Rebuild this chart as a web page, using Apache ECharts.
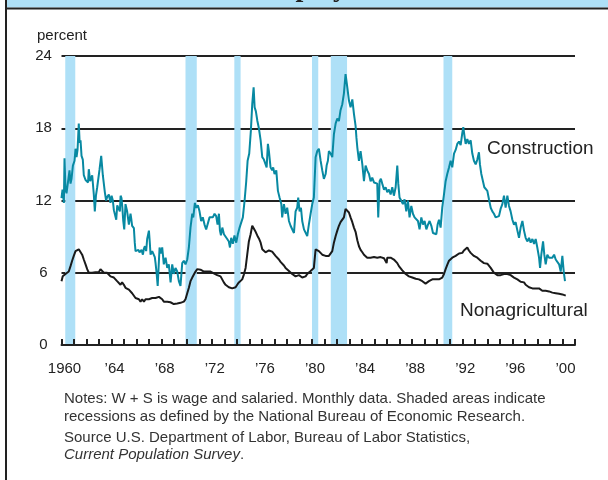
<!DOCTYPE html>
<html>
<head>
<meta charset="utf-8">
<script src="https://cdn.jsdelivr.net/npm/echarts@6/dist/echarts.min.js"></script>
<style>
  html, body { margin: 0; padding: 0; background: #fff; }
  #chart { width: 608px; height: 480px; }
</style>
</head>
<body>
<div id="chart"></div>
<script>
// monthly-ish readings, [year, percent]
var construction = [
  [1960.0, 12.2], [1960.08, 12.9], [1960.19, 11.8], [1960.24, 15.5], [1960.32, 12.9], [1960.4, 12.6],
  [1960.53, 12.7], [1960.64, 14.5], [1960.72, 13.4], [1960.8, 13.8], [1960.91, 14.9], [1961.04, 15.3],
  [1961.12, 16.3], [1961.2, 15.6], [1961.28, 16.2], [1961.38, 18.4], [1961.45, 16.8], [1961.52, 17.0],
  [1961.6, 15.7], [1961.7, 15.4], [1961.78, 14.1], [1961.92, 13.7], [1962.05, 13.8], [1962.12, 13.5],
  [1962.18, 14.6], [1962.29, 13.6], [1962.45, 14.1], [1962.58, 12.5], [1962.66, 11.1], [1962.75, 12.4],
  [1962.85, 13.1], [1963.04, 14.6], [1963.17, 15.7], [1963.3, 14.1], [1963.46, 12.7], [1963.56, 12.0],
  [1963.65, 12.3], [1963.78, 12.5], [1963.91, 11.8], [1964.0, 12.4], [1964.1, 12.0], [1964.18, 11.2],
  [1964.26, 11.1], [1964.37, 10.4], [1964.45, 11.6], [1964.53, 11.4], [1964.66, 11.1], [1964.72, 12.4],
  [1964.79, 12.2], [1964.86, 11.4], [1964.93, 10.3], [1965.01, 9.6], [1965.11, 11.7], [1965.24, 11.1],
  [1965.3, 11.0], [1965.38, 10.0], [1965.51, 10.9], [1965.58, 10.4], [1965.64, 9.9], [1965.78, 9.7],
  [1965.85, 8.5], [1965.91, 7.8], [1966.04, 7.7], [1966.14, 7.9], [1966.23, 7.7], [1966.39, 7.9],
  [1966.5, 7.5], [1966.58, 8.0], [1966.66, 8.2], [1966.76, 7.8], [1966.84, 8.8], [1966.9, 9.1],
  [1966.98, 9.5], [1967.05, 8.5], [1967.11, 7.5], [1967.24, 7.8], [1967.37, 7.9], [1967.45, 7.3],
  [1967.51, 6.8], [1967.6, 5.9], [1967.68, 4.9], [1967.76, 6.6], [1967.83, 8.1], [1967.92, 7.6],
  [1968.04, 8.1], [1968.17, 6.7], [1968.31, 7.25], [1968.44, 6.4], [1968.57, 6.7], [1968.71, 5.2],
  [1968.84, 6.7], [1968.97, 5.9], [1969.1, 6.4], [1969.24, 6.1], [1969.37, 5.3], [1969.5, 4.9],
  [1969.64, 6.8], [1969.77, 7.0], [1969.9, 6.7], [1970.04, 7.1], [1970.17, 8.1], [1970.3, 9.75],
  [1970.44, 10.9], [1970.52, 10.6], [1970.65, 11.8], [1970.76, 11.4], [1970.89, 11.6], [1971.02, 11.1],
  [1971.15, 10.3], [1971.28, 10.6], [1971.42, 10.0], [1971.55, 9.6], [1971.69, 9.5], [1971.82, 10.6],
  [1971.95, 10.7], [1972.08, 10.6], [1972.22, 10.9], [1972.35, 10.7], [1972.46, 10.0], [1972.57, 10.9],
  [1972.65, 9.5], [1972.73, 9.1], [1972.84, 9.75], [1972.97, 9.2], [1973.1, 9.1], [1973.23, 8.8],
  [1973.36, 8.6], [1973.45, 8.1], [1973.55, 8.9], [1973.68, 8.4], [1973.81, 9.1], [1973.95, 8.5],
  [1974.08, 9.2], [1974.22, 9.75], [1974.35, 9.9], [1974.48, 10.6], [1974.62, 12.0], [1974.75, 13.6],
  [1974.86, 15.3], [1974.99, 15.9], [1975.12, 17.8], [1975.23, 20.0], [1975.34, 21.4], [1975.42, 19.75],
  [1975.52, 19.4], [1975.64, 18.6], [1975.76, 18.0], [1975.9, 17.0], [1976.03, 15.6], [1976.16, 15.4],
  [1976.29, 15.3], [1976.38, 14.75], [1976.48, 16.7], [1976.56, 16.1], [1976.69, 14.75], [1976.82, 14.5],
  [1976.9, 14.75], [1977.01, 14.2], [1977.15, 14.5], [1977.28, 12.8], [1977.41, 12.25], [1977.55, 11.7],
  [1977.62, 10.6], [1977.76, 11.7], [1977.89, 10.9], [1978.02, 11.4], [1978.16, 10.3], [1978.29, 9.9],
  [1978.42, 9.75], [1978.56, 9.3], [1978.69, 11.1], [1978.82, 11.4], [1978.9, 12.25], [1979.01, 11.1],
  [1979.12, 11.4], [1979.22, 10.3], [1979.36, 9.6], [1979.49, 9.5], [1979.62, 9.05], [1979.75, 10.0],
  [1979.89, 10.9], [1980.02, 11.7], [1980.15, 12.25], [1980.29, 15.6], [1980.42, 16.1], [1980.55, 16.3],
  [1980.69, 15.3], [1980.82, 14.5], [1980.95, 13.8], [1981.09, 14.2], [1981.17, 14.9], [1981.27, 15.3],
  [1981.35, 16.1], [1981.49, 15.9], [1981.62, 15.6], [1981.75, 17.5], [1981.89, 18.4], [1982.02, 18.8],
  [1982.15, 18.6], [1982.28, 19.5], [1982.42, 20.0], [1982.55, 20.9], [1982.68, 22.5], [1982.82, 21.4],
  [1982.95, 20.3], [1983.08, 19.75], [1983.22, 20.4], [1983.35, 19.2], [1983.48, 18.2], [1983.55, 17.2],
  [1983.62, 16.4], [1983.75, 15.3], [1983.88, 16.1], [1984.02, 15.0], [1984.15, 13.6], [1984.28, 14.9],
  [1984.41, 14.5], [1984.55, 14.2], [1984.68, 13.6], [1984.81, 13.9], [1984.95, 13.5], [1985.08, 13.6],
  [1985.21, 13.4], [1985.29, 10.6], [1985.4, 13.6], [1985.5, 13.8], [1985.61, 13.4], [1985.75, 12.9],
  [1985.88, 13.1], [1986.01, 12.7], [1986.14, 12.9], [1986.28, 12.5], [1986.41, 13.1], [1986.54, 12.4],
  [1986.68, 13.1], [1986.81, 14.9], [1986.89, 13.4], [1986.99, 12.25], [1987.12, 12.0], [1987.26, 11.7],
  [1987.39, 12.1], [1987.53, 11.1], [1987.66, 12.0], [1987.79, 10.6], [1987.93, 11.55], [1988.06, 10.9],
  [1988.19, 10.6], [1988.33, 10.7], [1988.46, 10.3], [1988.59, 9.6], [1988.73, 10.6], [1988.86, 10.0],
  [1988.99, 10.3], [1989.13, 9.6], [1989.26, 10.0], [1989.39, 10.3], [1989.53, 9.9], [1989.66, 9.3],
  [1989.79, 9.2], [1989.93, 9.2], [1990.03, 10.0], [1990.14, 10.4], [1990.27, 9.75], [1990.4, 11.4],
  [1990.54, 12.5], [1990.67, 13.6], [1990.8, 14.2], [1990.94, 14.75], [1991.07, 15.3], [1991.2, 14.75],
  [1991.34, 15.9], [1991.47, 16.2], [1991.6, 16.7], [1991.74, 16.9], [1991.87, 16.6], [1992.0, 17.6],
  [1992.08, 18.1], [1992.19, 17.25], [1992.27, 16.7], [1992.4, 17.1], [1992.53, 16.7], [1992.67, 17.0],
  [1992.8, 15.9], [1992.93, 15.3], [1993.07, 15.0], [1993.2, 15.4], [1993.33, 16.0], [1993.41, 15.0],
  [1993.52, 14.2], [1993.65, 14.1], [1993.76, 13.1], [1993.87, 13.2], [1994.0, 12.8], [1994.13, 12.1],
  [1994.27, 11.4], [1994.4, 11.1], [1994.53, 10.9], [1994.66, 10.6], [1994.8, 10.6], [1994.93, 10.7],
  [1995.06, 11.3], [1995.2, 11.7], [1995.33, 12.4], [1995.46, 11.4], [1995.6, 12.4], [1995.73, 11.55],
  [1995.86, 11.1], [1996.0, 10.4], [1996.13, 10.0], [1996.26, 10.2], [1996.4, 9.5], [1996.53, 8.9],
  [1996.66, 9.75], [1996.8, 10.3], [1996.93, 9.5], [1997.06, 8.9], [1997.19, 8.6], [1997.33, 8.9],
  [1997.46, 8.5], [1997.6, 8.8], [1997.73, 8.4], [1997.86, 8.8], [1997.99, 8.1], [1998.13, 7.25],
  [1998.21, 6.4], [1998.31, 7.5], [1998.45, 8.6], [1998.55, 7.5], [1998.66, 6.7], [1998.79, 7.5],
  [1998.93, 7.25], [1999.06, 7.4], [1999.19, 7.25], [1999.33, 7.5], [1999.46, 7.1], [1999.6, 7.25],
  [1999.73, 6.7], [1999.86, 6.1], [1999.99, 7.4], [2000.1, 6.1], [2000.2, 5.3]
];

var nonagricultural = [
  [1960.0, 5.3], [1960.1, 5.7], [1960.19, 5.6], [1960.32, 5.9], [1960.45, 5.9], [1960.58, 6.1],
  [1960.72, 6.55], [1960.85, 7.0], [1960.98, 7.4], [1961.12, 7.8], [1961.25, 7.95], [1961.38, 7.95],
  [1961.52, 7.8], [1961.65, 7.5], [1961.78, 7.1], [1961.92, 6.7], [1962.05, 6.3], [1962.18, 6.0],
  [1962.31, 5.9], [1962.45, 6.0], [1962.58, 5.95], [1962.71, 6.05], [1962.85, 6.15], [1962.98, 6.05],
  [1963.11, 6.3], [1963.24, 6.15], [1963.38, 6.0], [1963.51, 5.9], [1963.64, 6.0], [1963.78, 5.9],
  [1963.91, 5.7], [1964.04, 5.7], [1964.18, 5.6], [1964.31, 5.45], [1964.44, 5.3], [1964.58, 5.2],
  [1964.71, 5.0], [1964.84, 5.2], [1964.98, 5.0], [1965.11, 4.75], [1965.24, 4.9], [1965.38, 4.6],
  [1965.51, 4.5], [1965.64, 4.3], [1965.78, 4.2], [1965.91, 3.9], [1966.04, 3.9], [1966.18, 3.8],
  [1966.31, 3.6], [1966.44, 3.8], [1966.58, 3.6], [1966.71, 3.8], [1966.84, 3.7], [1966.98, 3.8],
  [1967.11, 3.9], [1967.24, 3.9], [1967.38, 3.9], [1967.51, 3.9], [1967.64, 3.8], [1967.78, 4.0],
  [1967.91, 3.9], [1968.04, 3.8], [1968.17, 3.6], [1968.31, 3.7], [1968.44, 3.6], [1968.57, 3.5],
  [1968.7, 3.55], [1968.84, 3.5], [1968.97, 3.4], [1969.1, 3.5], [1969.24, 3.45], [1969.37, 3.5],
  [1969.5, 3.5], [1969.64, 3.55], [1969.77, 3.6], [1969.9, 3.8], [1970.04, 4.3], [1970.17, 4.75],
  [1970.3, 5.3], [1970.44, 5.6], [1970.57, 5.85], [1970.7, 6.1], [1970.84, 6.3], [1970.97, 6.2],
  [1971.1, 6.25], [1971.23, 6.2], [1971.37, 6.1], [1971.5, 6.15], [1971.63, 6.1], [1971.76, 6.15],
  [1971.9, 6.1], [1972.03, 6.0], [1972.16, 5.95], [1972.3, 5.85], [1972.43, 5.8], [1972.56, 5.85],
  [1972.7, 5.7], [1972.83, 5.45], [1972.96, 5.2], [1973.1, 5.0], [1973.23, 4.9], [1973.36, 4.8],
  [1973.5, 4.75], [1973.63, 4.7], [1973.76, 4.6], [1973.9, 4.8], [1974.03, 5.0], [1974.16, 5.2],
  [1974.3, 5.3], [1974.43, 5.45], [1974.56, 5.85], [1974.7, 6.4], [1974.83, 7.5], [1974.96, 8.6],
  [1975.1, 9.2], [1975.23, 9.9], [1975.36, 9.9], [1975.5, 9.4], [1975.63, 9.1], [1975.76, 8.85],
  [1975.9, 8.5], [1976.03, 7.95], [1976.16, 7.8], [1976.29, 7.7], [1976.42, 7.8], [1976.56, 7.85],
  [1976.69, 7.7], [1976.82, 7.75], [1976.96, 7.7], [1977.09, 7.4], [1977.22, 7.25], [1977.36, 7.1],
  [1977.49, 6.9], [1977.62, 6.8], [1977.76, 6.6], [1977.89, 6.4], [1978.02, 6.3], [1978.16, 6.15],
  [1978.29, 6.0], [1978.42, 5.9], [1978.56, 5.9], [1978.69, 5.7], [1978.82, 5.7], [1978.96, 5.8],
  [1979.09, 5.7], [1979.22, 5.6], [1979.36, 5.5], [1979.49, 5.7], [1979.62, 5.9], [1979.76, 6.0],
  [1979.89, 6.15], [1980.02, 6.3], [1980.15, 6.4], [1980.22, 7.2], [1980.29, 7.95], [1980.42, 8.1],
  [1980.55, 7.8], [1980.69, 7.7], [1980.82, 7.5], [1980.95, 7.45], [1981.09, 7.4], [1981.22, 7.5],
  [1981.35, 7.4], [1981.49, 7.4], [1981.62, 7.8], [1981.75, 8.5], [1981.89, 9.05], [1982.02, 9.5],
  [1982.15, 9.9], [1982.28, 10.2], [1982.42, 10.3], [1982.55, 10.6], [1982.68, 11.3], [1982.8, 11.4],
  [1982.95, 11.0], [1983.08, 10.6], [1983.22, 10.2], [1983.35, 9.75], [1983.48, 9.4], [1983.62, 8.7],
  [1983.75, 8.2], [1983.88, 7.9], [1984.02, 7.7], [1984.15, 7.5], [1984.28, 7.4], [1984.41, 7.25],
  [1984.55, 7.3], [1984.68, 7.25], [1984.81, 7.25], [1984.95, 7.3], [1985.08, 7.3], [1985.21, 7.25],
  [1985.35, 7.25], [1985.48, 7.3], [1985.61, 7.25], [1985.75, 7.2], [1985.88, 7.1], [1985.96, 6.8],
  [1986.01, 7.25], [1986.14, 7.25], [1986.28, 7.25], [1986.41, 7.2], [1986.54, 7.1], [1986.68, 7.0],
  [1986.81, 6.8], [1986.94, 6.55], [1987.08, 6.4], [1987.21, 6.2], [1987.34, 6.1], [1987.48, 5.9],
  [1987.61, 5.9], [1987.74, 5.7], [1987.88, 5.6], [1988.01, 5.6], [1988.14, 5.45], [1988.28, 5.5],
  [1988.41, 5.45], [1988.54, 5.45], [1988.68, 5.35], [1988.81, 5.3], [1988.94, 5.2], [1989.07, 5.1],
  [1989.21, 5.2], [1989.34, 5.3], [1989.47, 5.35], [1989.61, 5.45], [1989.74, 5.45], [1989.87, 5.45],
  [1990.0, 5.5], [1990.14, 5.45], [1990.27, 5.45], [1990.4, 5.6], [1990.54, 5.9], [1990.67, 6.3],
  [1990.8, 6.65], [1990.94, 7.0], [1991.07, 7.1], [1991.2, 7.25], [1991.34, 7.4], [1991.47, 7.4],
  [1991.6, 7.5], [1991.74, 7.6], [1991.87, 7.7], [1992.0, 7.65], [1992.13, 7.85], [1992.27, 7.95],
  [1992.4, 8.1], [1992.53, 7.85], [1992.67, 7.65], [1992.8, 7.5], [1992.93, 7.4], [1993.07, 7.5],
  [1993.2, 7.25], [1993.33, 7.1], [1993.47, 7.0], [1993.6, 7.0], [1993.73, 6.8], [1993.87, 6.75],
  [1994.0, 6.75], [1994.13, 6.65], [1994.27, 6.4], [1994.4, 6.2], [1994.53, 6.0], [1994.66, 5.9],
  [1994.8, 5.8], [1994.93, 5.65], [1995.06, 5.8], [1995.2, 5.9], [1995.33, 5.9], [1995.46, 5.85],
  [1995.6, 5.9], [1995.73, 5.85], [1995.86, 5.8], [1996.0, 5.7], [1996.13, 5.6], [1996.26, 5.45],
  [1996.4, 5.45], [1996.53, 5.3], [1996.66, 5.25], [1996.8, 5.3], [1996.93, 5.2], [1997.06, 5.0],
  [1997.19, 4.95], [1997.33, 4.8], [1997.46, 4.75], [1997.6, 4.7], [1997.73, 4.6], [1997.86, 4.7],
  [1997.99, 4.75], [1998.13, 4.7], [1998.26, 4.6], [1998.39, 4.5], [1998.53, 4.5], [1998.66, 4.5],
  [1998.79, 4.4], [1998.93, 4.45], [1999.06, 4.3], [1999.19, 4.35], [1999.33, 4.3], [1999.46, 4.3],
  [1999.6, 4.25], [1999.73, 4.25], [1999.86, 4.2], [1999.99, 4.2], [2000.13, 4.15], [2000.26, 4.1]
];

// recession shading, start / end in years
var recessions = [
  [1960.3, 1961.1], [1969.9, 1970.8], [1973.8, 1974.3],
  [1980.0, 1980.5], [1981.5, 1982.8], [1990.5, 1991.2]
];

var yTicks = [0, 6, 12, 18, 24];
var xStart = 1960, xEnd = 2001;

var ink = '#222';
var sans = '"Liberation Sans", Arial, Helvetica, sans-serif';
var plot = { left: 61.5, right: 33, top: 56, bottom: 135 };

var chart = echarts.init(document.getElementById('chart'), null, { renderer: 'canvas' });

var option = {
  animation: false,
  backgroundColor: '#fff',
  grid: [plot, plot],
  xAxis: [
    {
      // labels every 4 years, data axis
      gridIndex: 0,
      type: 'value',
      min: xStart,
      max: xEnd,
      interval: 4,
      axisLine: { show: false },
      axisTick: { show: false },
      splitLine: { show: false },
      axisLabel: {
        color: ink,
        fontFamily: sans,
        fontSize: 15,
        margin: 16,
        padding: [0, 0, 0, 6],
        showMaxLabel: false,
        formatter: function (v) {
          if (v % 4 !== 0) return '';
          return v === 1960 ? '1960' : '\u2019' + String(v).slice(2);
        }
      }
    },
    {
      // base line with a tick every year, on its own overlay grid
      gridIndex: 1,
      type: 'value',
      min: xStart,
      max: xEnd,
      interval: 1,
      z: 1,
      axisLine: { lineStyle: { color: ink, width: 2 } },
      axisTick: { show: true, inside: true, length: 6, lineStyle: { color: ink, width: 2 } },
      axisLabel: { show: false },
      splitLine: { show: false }
    }
  ],
  yAxis: [
    {
      gridIndex: 0,
      type: 'value',
      min: yTicks[0],
      max: yTicks[yTicks.length - 1],
      interval: 6,
      z: 1,
      axisLine: { show: false },
      axisTick: { show: false },
      splitLine: { lineStyle: { color: ink, width: 2 } },
      axisLabel: { color: ink, fontFamily: sans, fontSize: 15, align: 'center', margin: 18 }
    },
    {
      gridIndex: 1,
      type: 'value',
      min: yTicks[0],
      max: yTicks[yTicks.length - 1],
      show: false
    }
  ],
  series: [
    {
      name: 'recessions',
      type: 'line',
      z: 0,
      data: [],
      silent: true,
      markArea: {
        silent: true,
        itemStyle: { color: '#aee0f7', opacity: 1 },
        data: recessions.map(function (r) { return [{ xAxis: r[0] }, { xAxis: r[1] }]; })
      }
    },
    {
      name: 'Nonagricultural',
      type: 'line',
      z: 2,
      data: nonagricultural,
      showSymbol: false,
      lineStyle: { color: '#1a1a1a', width: 2 }
    },
    {
      name: 'Construction',
      type: 'line',
      z: 3,
      data: construction,
      showSymbol: false,
      lineStyle: { color: '#0889a2', width: 2 }
    }
  ],
  graphic: [
    { type: 'rect', shape: { x: 7, y: 0, width: 601, height: 7.5 }, style: { fill: '#aee0f7' } },
    { type: 'rect', shape: { x: 5, y: 7.5, width: 603, height: 2 }, style: { fill: ink } },
    { type: 'rect', shape: { x: 5, y: 0, width: 2, height: 480 }, style: { fill: ink } },
    {
      type: 'text', x: 224, y: -11.5,
      style: { text: 'Unemployment rates', font: 'bold 28px "Liberation Serif", "Times New Roman", serif', fill: ink, verticalAlign: 'middle' }
    },
    { type: 'text', x: 37, y: 36, style: { text: 'percent', font: '15px ' + sans, fill: ink, verticalAlign: 'middle' } },
    { type: 'text', x: 487, y: 149, style: { text: 'Construction', font: '19px ' + sans, fill: ink, verticalAlign: 'middle' } },
    { type: 'text', x: 460, y: 311, style: { text: 'Nonagricultural', font: '19px ' + sans, fill: ink, verticalAlign: 'middle' } },
    { type: 'text', x: 64, y: 399, style: { text: 'Notes: W + S is wage and salaried. Monthly data. Shaded areas indicate', font: '15px ' + sans, fill: '#333', verticalAlign: 'middle' } },
    { type: 'text', x: 64, y: 416.7, style: { text: 'recessions as defined by the National Bureau of Economic Research.', font: '15px ' + sans, fill: '#333', verticalAlign: 'middle' } },
    { type: 'text', x: 64, y: 438.3, style: { text: 'Source U.S. Department of Labor, Bureau of Labor Statistics,', font: '15px ' + sans, fill: '#333', verticalAlign: 'middle' } },
    {
      type: 'text', x: 64, y: 455,
      style: {
        text: '{i|Current Population Survey}.',
        font: '15px ' + sans, fill: '#333', verticalAlign: 'middle',
        rich: { i: { fontStyle: 'italic', fontFamily: sans, fontSize: 15, fill: '#333' } }
      }
    }
  ]
};

chart.setOption(option);
</script>
</body>
</html>
